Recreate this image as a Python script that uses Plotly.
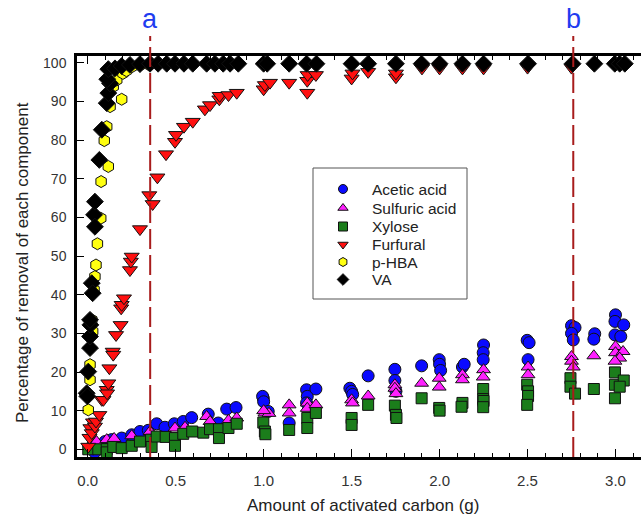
import plotly.graph_objects as go

# ---------------- data ----------------
acetic_x = [0.04, 0.051, 0.098, 0.136, 0.193, 0.25, 0.297, 0.344, 0.392, 0.439, 0.492, 0.543, 0.591, 0.685, 0.742,
            0.79, 0.843, 0.998, 0.994, 1.0, 1.026, 1.145, 1.244, 1.248, 1.244, 1.297, 1.49, 1.5, 1.506, 1.594,
            1.746, 1.746, 1.752, 1.898, 1.998, 2.0, 2.006, 2.13, 2.14, 2.25, 2.248, 2.248, 2.498, 2.509, 2.503,
            2.75, 2.77, 2.75, 2.76, 2.882, 2.877, 3.0, 2.997, 3.047, 2.997, 3.03]
acetic_y = [-0.8, 1.2, 2.0, 2.5, 2.9, 3.75, 4.6, 4.9, 6.6, 5.7, 6.6, 7.2, 8.2, 9.1, 6.8,
            10.4, 10.8, 13.2, 13.7, 12.3, 9.8, 6.8, 15.4, 13.7, 12.0, 15.6, 15.8, 15.0, 14.2, 19.0,
            20.7, 17.8, 15.0, 21.6, 23.2, 22.0, 20.4, 21.3, 22.0, 27.0, 25.0, 23.2, 28.2, 27.6, 23.2,
            32.0, 31.5, 30.0, 28.3, 29.9, 28.5, 34.8, 33.1, 32.2, 29.6, 29.2]

sulfuric_x = [0.02, 0.05, 0.108, 0.15, 0.25, 0.354, 0.496, 0.553, 0.676, 0.695, 0.8, 0.847, 1.007, 1.03, 1.0,
              1.145, 1.145, 1.248, 1.248, 1.297, 1.5, 1.505, 1.594, 1.746, 1.746, 1.752, 1.898, 1.998, 1.998,
              2.13, 2.13, 2.25, 2.248, 2.503, 2.503, 2.75, 2.75, 2.76, 2.877, 3.0, 3.0, 3.043, 3.024, 2.997]
sulfuric_y = [1.5, 2.0, 2.5, 2.8, 3.5, 4.6, 5.5, 5.7, 8.5, 7.2, 7.5, 8.1, 9.4, 9.3, 10.0,
              11.5, 9.4, 12.0, 10.6, 11.5, 12.8, 12.0, 13.8, 16.7, 15.8, 14.4, 17.1, 18.4, 16.1,
              19.3, 18.0, 20.6, 18.7, 21.3, 19.3, 24.0, 22.8, 21.3, 24.2, 26.6, 25.0, 25.3, 23.6, 22.8]

xylose_x = [0.003, 0.06, 0.108, 0.108, 0.145, 0.193, 0.25, 0.297, 0.36, 0.363, 0.392, 0.443, 0.496, 0.496,
            0.543, 0.594, 0.657, 0.695, 0.746, 0.746, 0.8, 0.847, 0.998, 1.007, 1.01, 1.145, 1.248, 1.248,
            1.297, 1.5, 1.5, 1.594, 1.746, 1.752, 1.755, 1.898, 1.998, 2.0, 2.13, 2.125, 2.248, 2.248, 2.25,
            2.248, 2.498, 2.503, 2.503, 2.498, 2.744, 2.744, 2.77, 2.877, 2.997, 2.997, 3.047, 3.024, 2.997]
xylose_y = [0.0, 0.0, 0.05, -0.8, 0.6, 0.3, 0.9, 2.0, 2.5, 0.6, 3.3, 3.2, 2.9, 0.9,
            4.0, 4.6, 4.3, 5.2, 5.2, 2.9, 5.5, 6.6, 6.9, 4.6, 3.9, 5.0, 8.1, 5.5,
            9.4, 8.1, 6.3, 11.5, 11.3, 8.9, 8.1, 13.2, 10.7, 10.0, 12.0, 11.0, 15.6, 13.0, 12.5,
            10.9, 16.7, 15.0, 13.8, 11.5, 18.4, 16.2, 14.4, 15.6, 19.9, 16.7, 17.8, 16.2, 13.2]

furfural_x = [0.003, 0.01, 0.015, 0.023, 0.03, 0.041, 0.047, 0.066, 0.08, 0.089, 0.108, 0.11, 0.117, 0.123,
              0.142, 0.145, 0.161, 0.187, 0.19, 0.193, 0.206, 0.24, 0.245, 0.25, 0.297, 0.35, 0.369, 0.396,
              0.445, 0.496, 0.502, 0.547, 0.597, 0.666, 0.695, 0.748, 0.75, 0.8, 0.847, 1.0, 1.007, 1.036,
              1.145, 1.248, 1.248, 1.25, 1.297, 1.5, 1.505, 1.594, 1.752, 1.752, 1.9, 2.0, 2.13, 2.25, 2.5, 2.75]
furfural_y = [0.7, 3.0, 5.5, 4.2, 7.0, 5.9, 7.2, 8.9, 12.8, 12.8, 15.4, 14.5, 17.1, 21.0,
              25.3, 24.5, 29.6, 32.2, 36.5, 37.4, 39.1, 46.4, 48.6, 49.9, 57.0, 65.8, 63.5, 70.4,
              76.4, 79.6, 81.4, 83.5, 84.8, 88.0, 89.1, 90.6, 91.5, 91.7, 92.3, 93.2, 94.3, 94.9,
              94.9, 92.3, 95.4, 96.9, 96.9, 96.0, 97.3, 97.7, 96.3, 97.3, 98.6, 98.6, 98.6, 98.6, 98.8, 98.8]

phba_x = [0.003, 0.013, 0.013, 0.023, 0.028, 0.036, 0.041, 0.047, 0.055, 0.074, 0.076, 0.094, 0.108, 0.117,
          0.127, 0.145, 0.165, 0.193, 0.2, 0.22, 0.25, 0.3, 0.35]
phba_y = [10.2, 18.0, 21.9, 33.5, 30.5, 41.3, 44.7, 47.7, 53.2, 59.8, 69.3, 79.9, 83.5, 73.2,
          88.7, 93.9, 95.6, 90.6, 97.3, 98.0, 99.0, 99.5, 99.5]

va_x = [-0.006, -0.002, 0.003, 0.013, 0.013, 0.015, 0.013, 0.023, 0.028, 0.036, 0.041, 0.041, 0.066, 0.08,
        0.108, 0.117, 0.127, 0.111, 0.117, 0.155, 0.193, 0.24, 0.297, 0.354, 0.40, 0.449, 0.496, 0.547, 0.597,
        0.676, 0.723, 0.77, 0.809, 0.856, 1.0, 1.02, 1.145, 1.244, 1.30, 1.50, 1.594, 1.752, 1.898, 2.0,
        2.13, 2.25, 2.503, 2.756, 2.88, 2.996, 3.024, 3.053]
va_y = [14.5, 13.7, 20.1, 26.2, 29.2, 32.2, 33.5, 43.0, 40.4, 60.7, 57.6, 64.1, 74.9, 82.7,
        89.6, 92.2, 94.7, 95.8, 98.4, 98.6, 99.2, 99.5, 99.7, 99.8, 99.8, 99.8, 99.8, 99.8, 99.8,
        99.8, 99.8, 99.8, 99.8, 99.8, 99.8, 99.8, 99.8, 99.8, 99.8, 99.8, 99.8, 99.8, 99.8, 99.8,
        99.8, 99.8, 99.8, 99.8, 99.8, 99.8, 99.8, 99.8]

names = ["Acetic acid", "Sulfuric acid", "Xylose", "Furfural", "p-HBA", "VA"]
xs = [acetic_x, sulfuric_x, xylose_x, furfural_x, phba_x, va_x]
ys = [acetic_y, sulfuric_y, xylose_y, furfural_y, phba_y, va_y]
colors = ["#0a0aff", "#ff20ff", "#1b7d1b", "#ff1010", "#ffff10", "#000000"]
symbols = ["circle", "triangle-up", "square", "triangle-down", "hexagon", "diamond"]
sizes = [12, 12, 11, 13, 12, 13]

line_a = 0.355
line_b = 2.76
x_ticks = [0.0, 0.5, 1.0, 1.5, 2.0, 2.5, 3.0]
y_ticks = list(range(0, 101, 10))

FONT = "Liberation Sans, Arial, sans-serif"

# layout geometry (pixels)
W, H = 641, 521
L, R, T, B = 77, 0, 56, 64
pw, ph = W - L - R, H - T - B


def px2paper_x(p):
    return (p - L) / pw


def px2paper_y(p):
    return (H - B - p) / ph


fig = go.Figure()
for n, x, y, c, s, sz in zip(names, xs, ys, colors, symbols, sizes):
    fig.add_trace(go.Scatter(x=x, y=y, mode="markers", name=n, showlegend=False,
                             marker=dict(color=c, symbol=s, size=sz,
                                         line=dict(color="#111111", width=1))))

# ---- legend (drawn manually for tight 18px row spacing) ----
legend_rows_px = [189, 208, 226.5, 244.5, 262, 279.5]
legend_marker_x = px2paper_x(343)
legend_text_x = px2paper_x(370)
for n, c, s, rp in zip(names, colors, symbols, legend_rows_px):
    fig.add_trace(go.Scatter(x=[legend_marker_x], y=[px2paper_y(rp)], xaxis="x2", yaxis="y2",
                             mode="markers", name=n, showlegend=False, hoverinfo="skip",
                             marker=dict(color=c, symbol=s, size=9,
                                         line=dict(color="#111111", width=1))))
    fig.add_annotation(x=legend_text_x, y=px2paper_y(rp), xref="paper", yref="paper", text=n,
                       showarrow=False, xanchor="left", yanchor="middle",
                       font=dict(family=FONT, size=15.5, color="#222222"))
fig.add_shape(type="rect", xref="paper", yref="paper",
              x0=px2paper_x(313), x1=px2paper_x(467), y0=px2paper_y(299), y1=px2paper_y(168),
              line=dict(color="#555555", width=1), fillcolor="white", layer="below")

# vertical dashed lines
for xv in (line_a, line_b):
    fig.add_shape(type="line", xref="x", yref="paper", x0=xv, x1=xv,
                  y0=0, y1=px2paper_y(36), line=dict(color="#a81c1c", width=2, dash="20px,6px"),
                  layer="above")
for xv, lab in ((line_a, "a"), (line_b, "b")):
    fig.add_annotation(x=xv, y=px2paper_y(19), xref="x", yref="paper", text=lab, showarrow=False,
                       font=dict(family=FONT, size=27, color="#1f3cf0"), yanchor="middle")

# axis titles
fig.add_annotation(x=px2paper_x(363), y=px2paper_y(505), xref="paper", yref="paper",
                   text="Amount of activated carbon (g)", showarrow=False,
                   font=dict(family=FONT, size=17, color="#222222"), yanchor="middle")
fig.add_annotation(x=px2paper_x(22), y=px2paper_y(263), xref="paper", yref="paper",
                   text="Percentage of removal of each component", showarrow=False, textangle=-90,
                   font=dict(family=FONT, size=17, color="#222222"), xanchor="center", yanchor="middle")

fig.update_layout(
    width=W, height=H,
    margin=dict(l=L, r=R, t=T, b=B, pad=0),
    paper_bgcolor="white", plot_bgcolor="rgba(0,0,0,0)",
    font=dict(family=FONT, size=15, color="#333333"),
    showlegend=False,
    xaxis=dict(range=[-0.061, 3.145], tickvals=x_ticks, ticktext=[f"{v:.1f}" for v in x_ticks],
               showgrid=False, zeroline=False, showline=True, linecolor="black", linewidth=2.5,
               mirror="ticks", ticks="inside", ticklen=8, tickwidth=1, tickcolor="black",
               minor=dict(dtick=0.1, ticks="inside", ticklen=4, tickwidth=1, tickcolor="black", showgrid=False),
               tickfont=dict(family=FONT, size=15, color="#333333"), ticklabelstandoff=8),
    yaxis=dict(range=[-2.0, 101.8], tickvals=y_ticks, showgrid=False, zeroline=False, showline=True,
               linecolor="black", linewidth=2.5, ticks="inside", ticklen=7, tickwidth=1, tickcolor="black",
               tickfont=dict(family=FONT, size=14, color="#333333"), ticklabelstandoff=5),
    xaxis2=dict(domain=[0, 1], range=[0, 1], anchor="y2", visible=False, fixedrange=True),
    yaxis2=dict(domain=[0, 1], range=[0, 1], anchor="x2", visible=False, fixedrange=True),
)

fig.write_html("out.html")
